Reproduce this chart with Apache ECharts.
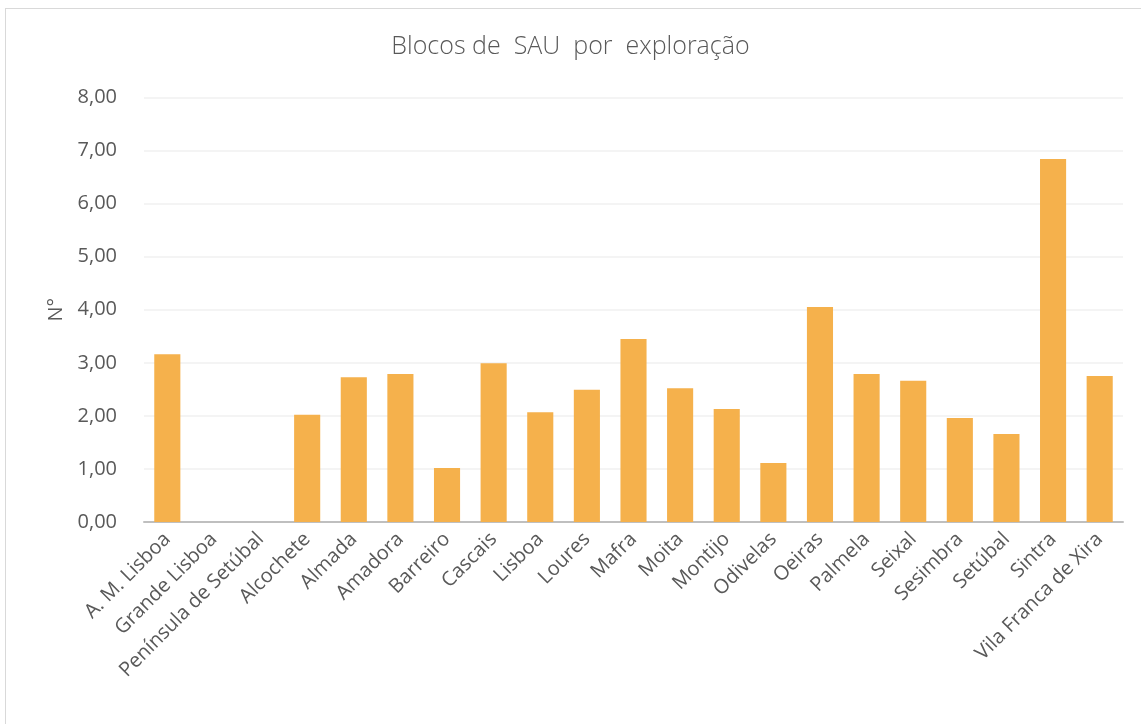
<!DOCTYPE html>
<html>
<head>
<meta charset="utf-8">
<script src="https://cdn.jsdelivr.net/npm/echarts@6/dist/echarts.min.js"></script>
<style>
	html, body { margin: 0; padding: 0; background: #fff; }
	#frame { position: absolute; left: 5px; top: 8px; width: 1150px; height: 730px; border: 1px solid #d9d9d9; box-sizing: border-box; }
	#chart { position: absolute; left: 0; top: 0; width: 1141px; height: 724px; }
</style>
</head>
<body>
<div id="frame"></div>
<div id="chart"></div>
<script>
	// categorias e valores
	var categorias = ['A. M. Lisboa', 'Grande Lisboa', 'Península de Setúbal', 'Alcochete', 'Almada', 'Amadora', 'Barreiro', 'Cascais', 'Lisboa', 'Loures', 'Mafra', 'Moita', 'Montijo', 'Odivelas', 'Oeiras', 'Palmela', 'Seixal', 'Sesimbra', 'Setúbal', 'Sintra', 'Vila Franca de Xira'];
	var valores = [3.16, null, null, 2.02, 2.73, 2.79, 1.02, 2.99, 2.07, 2.49, 3.45, 2.52, 2.13, 1.11, 4.05, 2.79, 2.66, 1.96, 1.66, 6.84, 2.75];

	var Chart = echarts.init(document.getElementById('chart'))
	var option = {
		backgroundColor: 'transparent',
		animation: false,
		title: {
			text: 'Blocos de  SAU  por  exploração',
			left: 'center',
			top: 29,
			textStyle: {
				color: '#595959',
				fontFamily: 'Open Sans',
				fontWeight: 300,
				fontSize: 25
			}
		},
		grid: {
			left: 144,
			right: 18,
			top: 97.5,
			bottom: 202
		},
		xAxis: {
			type: 'category',
			data: categorias,
			axisLine: { lineStyle: { color: '#bfbfbf', width: 2 } },
			axisTick: { show: false },
			axisLabel: {
				interval: 0,
				rotate: 45,
				color: '#595959',
				fontFamily: 'Open Sans',
				fontSize: 20,
				margin: 14
			}
		},
		yAxis: {
			type: 'value',
			min: 0,
			max: 8,
			interval: 1,
			name: 'N°',
			nameLocation: 'middle',
			nameGap: 78,
			nameTextStyle: {
				color: '#595959',
				fontFamily: 'Open Sans',
				fontSize: 20
			},
			axisLine: { show: false },
			axisTick: { show: false },
			splitLine: { lineStyle: { color: '#f0f0f0', width: 1.5 } },
			axisLabel: {
				color: '#595959',
				fontFamily: 'Open Sans',
				fontSize: 20,
				margin: 27,
				formatter: function(v) {
					return v.toFixed(2).replace('.', ',')
				}
			}
		},
		series: [{
			type: 'bar',
			data: valores,
			barWidth: '56%',
			itemStyle: { color: '#f5b14c' }
		}]
	};
	Chart.setOption(option)
</script>
</body>
</html>
